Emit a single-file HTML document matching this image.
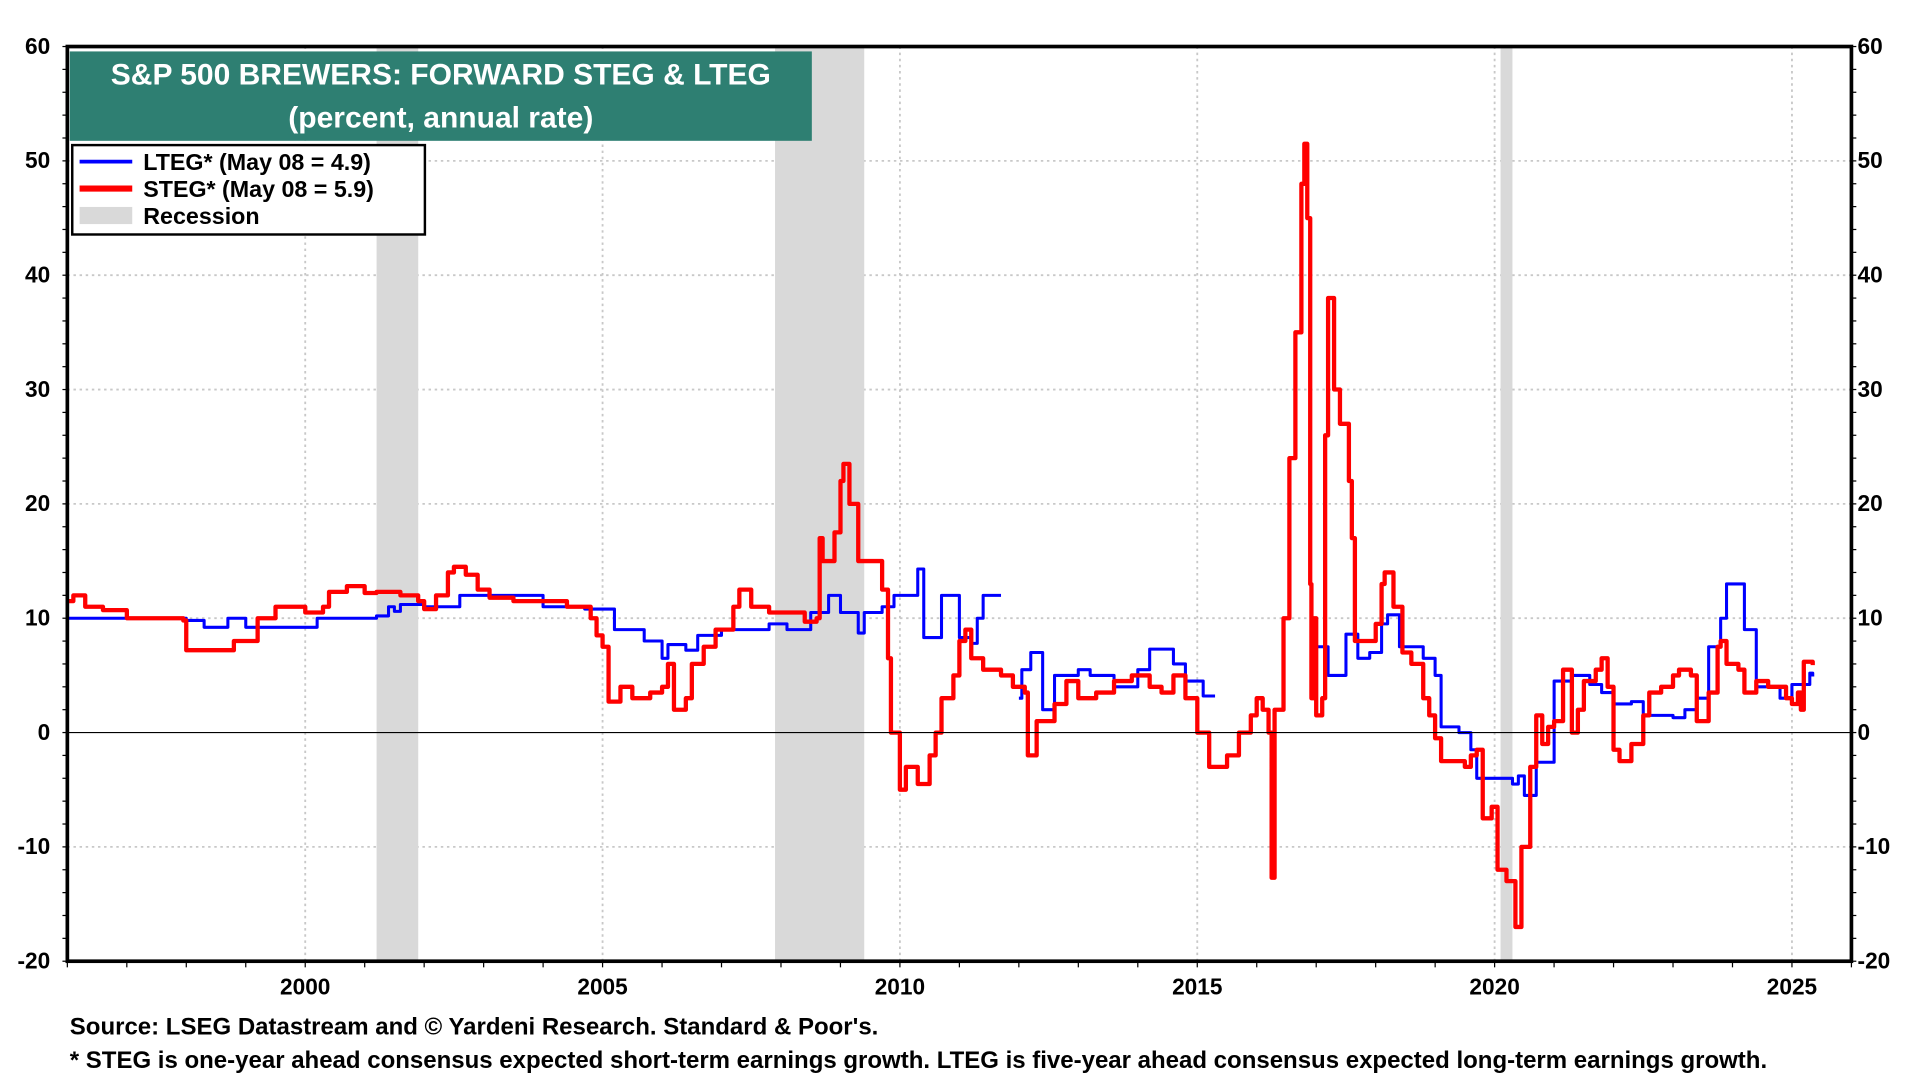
<!DOCTYPE html>
<html><head><meta charset="utf-8"><style>
html,body{margin:0;padding:0;background:#fff}
svg{display:block;font-family:"Liberation Sans",Arial,sans-serif;font-weight:bold}
</style></head><body>
<svg id="chart" width="1920" height="1080" viewBox="0 0 1568 882">
<g id="grid"></g>
<g id="rec"></g>
<g id="series"></g>
<g id="axes"></g>
<rect x="57" y="42" width="606" height="73" fill="#2e7f72"/>
<text x="360" y="69" text-anchor="middle" fill="#fff" font-size="24.5">S&amp;P 500 BREWERS: FORWARD STEG &amp; LTEG</text>
<text x="360" y="104" text-anchor="middle" fill="#fff" font-size="24.5">(percent, annual rate)</text>
<g>
<rect x="59" y="118.5" width="288" height="73" fill="#fff" stroke="#000" stroke-width="2"/>
<line x1="65" y1="132" x2="108" y2="132" stroke="#0000ff" stroke-width="3"/>
<text x="117" y="139" font-size="19">LTEG* (May 08 = 4.9)</text>
<line x1="65" y1="154" x2="108" y2="154" stroke="#ff0000" stroke-width="5"/>
<text x="117" y="161" font-size="19">STEG* (May 08 = 5.9)</text>
<rect x="65" y="169" width="43" height="14" fill="#d9d9d9"/>
<text x="117" y="183" font-size="19">Recession</text>
</g>
<text x="57" y="845" font-size="19.6">Source: LSEG Datastream and © Yardeni Research. Standard &amp; Poor's.</text>
<text x="57" y="872" font-size="19.6">* STEG is one-year ahead consensus expected short-term earnings growth. LTEG is five-year ahead consensus expected long-term earnings growth.</text>
</svg>
<script>
const yTicks=[60,50,40,30,20,10,0,-10,-20];
const xTicks=[2000,2005,2010,2015,2020,2025];
const recStart=[2001.2,2007.9,2020.1];
const recEnd=[2001.9,2009.4,2020.3];
const ltegYears=[1996.0,1998.0,1998.3,1998.7,1999.0,2000.2,2001.2,2001.4,2001.5,2001.6,2002.0,2002.6,2004.0,2004.7,2005.2,2005.7,2006.0,2006.1,2006.4,2006.6,2007.0,2007.8,2008.1,2008.5,2008.8,2009.0,2009.3,2009.4,2009.7,2009.9,2010.3,2010.4,2010.7,2011.0,2011.2,2011.3,2011.4,2011.7,2011.8,2012.0,2012.05,2012.2,2012.4,2012.6,2013.0,2013.2,2013.6,2014.0,2014.2,2014.6,2014.8,2015.1,2015.3,2015.4,2016.95,2017.2,2017.5,2017.7,2017.9,2018.1,2018.2,2018.4,2018.8,2019.0,2019.1,2019.4,2019.6,2019.7,2020.0,2020.3,2020.4,2020.5,2020.7,2021.0,2021.3,2021.6,2021.8,2022.0,2022.3,2022.5,2023.0,2023.2,2023.4,2023.6,2023.8,2023.9,2024.2,2024.4,2024.8,2025.0,2025.3,2025.35];
const ltegValues=[10,9.8,9.2,10,9.2,10,10.2,11,10.6,11.2,11,12,11,10.8,9,8,6.5,7.7,7.2,8.5,9,9.5,9,10.5,12,10.5,8.7,10.5,11,12,14.3,8.3,12,8.3,7.8,10,12,12,NaN,3,5.5,7,2,5,5.5,5,4,5.5,7.3,6,4.5,3.2,3.2,NaN,7.5,5,8.6,6.5,7,9.5,10.3,7.5,6.5,5,0.5,0,-1.5,-4,-4,-4.5,-3.8,-5.5,-2.6,4.5,5,4.2,3.5,2.5,2.7,1.5,1.3,2,3,7.5,10,13,9,4,3,4.2,5.2,4.9];
const stegYears=[1996.0,1996.1,1996.3,1996.6,1997.0,1997.5,1997.95,1998.0,1998.5,1998.8,1999.2,1999.5,2000.0,2000.3,2000.4,2000.7,2001.0,2001.2,2001.6,2001.9,2002.0,2002.2,2002.4,2002.5,2002.7,2002.9,2003.1,2003.5,2004.0,2004.4,2004.8,2004.9,2005.0,2005.1,2005.3,2005.5,2005.8,2006.0,2006.1,2006.2,2006.4,2006.5,2006.7,2006.9,2007.2,2007.3,2007.5,2007.8,2008.0,2008.4,2008.6,2008.65,2008.7,2008.9,2009.0,2009.05,2009.15,2009.3,2009.6,2009.7,2009.8,2009.85,2010.0,2010.1,2010.3,2010.5,2010.6,2010.7,2010.9,2011.0,2011.1,2011.2,2011.4,2011.7,2011.9,2012.1,2012.15,2012.3,2012.6,2012.8,2013.0,2013.3,2013.6,2013.9,2014.2,2014.4,2014.6,2014.8,2015.0,2015.2,2015.5,2015.7,2015.9,2016.0,2016.1,2016.2,2016.25,2016.3,2016.45,2016.55,2016.65,2016.75,2016.8,2016.85,2016.9,2016.92,2016.95,2017.0,2017.1,2017.15,2017.2,2017.3,2017.4,2017.55,2017.6,2017.65,2017.8,2018.0,2018.1,2018.15,2018.3,2018.45,2018.6,2018.8,2018.9,2019.0,2019.1,2019.3,2019.5,2019.6,2019.7,2019.8,2019.95,2020.05,2020.2,2020.35,2020.45,2020.6,2020.7,2020.8,2020.9,2021.0,2021.15,2021.3,2021.4,2021.5,2021.7,2021.8,2021.9,2022.0,2022.1,2022.3,2022.5,2022.6,2022.8,2023.0,2023.1,2023.3,2023.4,2023.6,2023.75,2023.8,2023.9,2024.1,2024.2,2024.4,2024.6,2024.9,2025.0,2025.1,2025.15,2025.2,2025.35];
const stegValues=[11.5,12,11,10.7,10,10,9.8,7.2,7.2,8,10,11,10.5,11,12.3,12.8,12.2,12.3,12,11.5,10.8,12,14,14.5,13.8,12.5,11.8,11.5,11.5,11,10,8.5,7.5,2.7,4,3,3.5,4,6,2,3,6,7.5,9,11,12.5,11,10.5,10.5,9.7,10,17,15,17.5,22,23.5,20,15,15,12.5,6.5,0,-5,-3,-4.5,-2,0,3,5,8,9,6.5,5.5,5,4,3.5,-2,1,2.5,4.5,3,3.5,4.5,5,4,3.5,5,3,0,-3,-2,0,1.5,3,2,0,-12.7,2,10,24,35,48,51.5,45,13,3,10,1.5,3,26,38,30,27,22,17,8,8,9.5,13,14,11,7,6,3,1.5,-0.5,-2.5,-2.5,-3,-2,-1.5,-7.5,-6.5,-12,-13,-17,-10,-3,1.5,-1,0.5,1,5.5,0,2,4.5,5.5,6.5,4,-1.5,-2.5,-1,1.5,3.5,4,5,5.5,5,1,3.5,7.5,8,6,5.5,3.5,4.5,4,3,2.5,3.5,2,6.2,5.9];

const L=55,R=1512,T=38,B=785,X0=1996.0,X1=2026.0,Y0=-20,Y1=60;
const xs=v=>L+(v-X0)/(X1-X0)*(R-L);
const ys=v=>B-(v-Y0)/(Y1-Y0)*(B-T);
const NS='http://www.w3.org/2000/svg';
function mk(tag,parent,attrs){const e=document.createElementNS(NS,tag);for(const k in attrs)e.setAttribute(k,attrs[k]);document.getElementById(parent).appendChild(e);return e;}

yTicks.forEach(t=>{
  if(t!==60&&t!==-20&&t!==0){const g=mk('line','grid',{x1:L,x2:R,y1:ys(t),y2:ys(t),stroke:'#c8c8c8','stroke-width':1.5,'stroke-dasharray':'2,3'});
  
  }
  const a=mk('text','axes',{x:L-14,y:ys(t)+6,'text-anchor':'end','font-size':18.5});a.textContent=t;
  
  
  const b=mk('text','axes',{x:R+5,y:ys(t)+6,'text-anchor':'start','font-size':18.5});b.textContent=t;
  
  
});
for(let t=Y0;t<=Y1;t+=2){mk('line','axes',{x1:L-4,x2:L,y1:ys(t),y2:ys(t),stroke:'#000','stroke-width':1});mk('line','axes',{x1:R,x2:R+4,y1:ys(t),y2:ys(t),stroke:'#000','stroke-width':1});}
xTicks.forEach(t=>{
  const g=mk('line','grid',{x1:xs(t),x2:xs(t),y1:T,y2:B,stroke:'#c8c8c8','stroke-width':1.5,'stroke-dasharray':'2,3'});
  
  
  const a=mk('text','axes',{x:xs(t),y:B+27,'text-anchor':'middle','font-size':18.5});a.textContent=t;
  
  
});
for(let y=1996;y<=2026;y++){mk('line','axes',{x1:xs(y),x2:xs(y),y1:B,y2:B+5,stroke:'#000','stroke-width':1});}
recStart.forEach((s,i)=>{const r=mk('rect','rec',{x:xs(s),y:T,width:xs(recEnd[i])-xs(s),height:B-T,fill:'#d9d9d9'});
  
  });
const z=mk('line','axes',{x1:L,x2:R,y1:ys(0),y2:ys(0),stroke:'#000','stroke-width':1});


const fr=mk('rect','axes',{x:L,y:T,width:R-L,height:B-T,fill:'none',stroke:'#000','stroke-width':3});



function stepPath(xv,yv){let d='',pen=false;
  for(let i=0;i<xv.length;i++){const v=yv[i];if(isNaN(v)){pen=false;continue;}
    const X=xs(xv[i]).toFixed(1),Y=ys(v).toFixed(1);
    if(!pen){d+='M'+X+','+Y;pen=true;}else{d+='H'+X+'V'+Y;}}
  return d;}
const pb=mk('path','series',{d:stepPath(ltegYears,ltegValues),fill:'none',stroke:'#0000ff','stroke-width':2.5,'stroke-linejoin':'round'});


const pr=mk('path','series',{d:stepPath(stegYears,stegValues),fill:'none',stroke:'#ff0000','stroke-width':3.5,'stroke-linejoin':'round'});


</script>
</body></html>
